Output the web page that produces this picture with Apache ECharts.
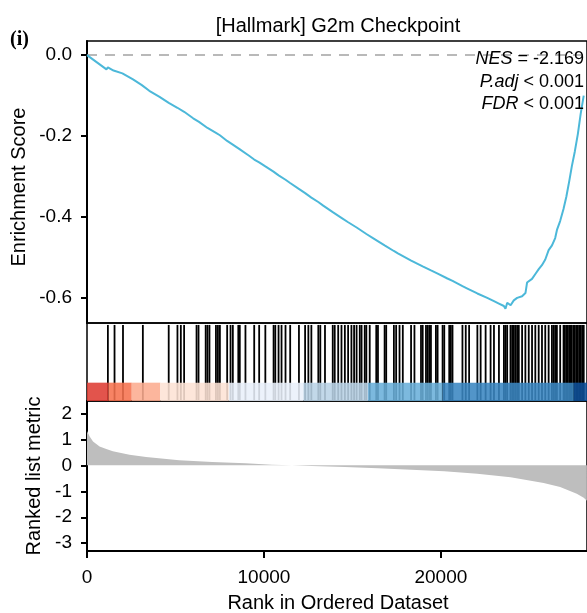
<!DOCTYPE html>
<html>
<head>
<meta charset="utf-8">
<script src="https://cdn.jsdelivr.net/npm/echarts@6/dist/echarts.min.js"></script>
<style>
html,body{margin:0;padding:0;background:#fff}
#main{width:587px;height:613px}
</style>
</head>
<body>
<div id="main"></div>
<script>
// running enrichment score (rank, score)
var esRank = [0,600,1100,1180,1500,1560,2000,2060,2600,3100,3160,3520,4100,4620,4650,5110,5490,6000,6330,6810,7290,7510,7920,8240,8640,9140,9450,9730,10080,10540,10830,11220,11480,11950,12330,12680,13070,13350,13890,14380,14760,15240,15790,16160,16820,17340,17570,18320,18970,19440,19820,20370,20660,21220,21500,22060,22620,23000,23280,23560,23650,23750,23940,24120,24310,24590,24780,24870,25150,25340,25530,25710,25900,26090,26280,26460,26560,26740,26930,27090,27260,27400,27570,27740,27900,28073];
var esValue = [0,-0.019,-0.035,-0.030,-0.038,-0.034,-0.045,-0.042,-0.060,-0.074,-0.070,-0.088,-0.103,-0.118,-0.115,-0.130,-0.140,-0.156,-0.165,-0.180,-0.192,-0.198,-0.212,-0.221,-0.233,-0.248,-0.258,-0.265,-0.275,-0.288,-0.297,-0.308,-0.316,-0.330,-0.341,-0.352,-0.363,-0.372,-0.388,-0.402,-0.413,-0.426,-0.442,-0.452,-0.470,-0.484,-0.490,-0.508,-0.522,-0.532,-0.540,-0.552,-0.558,-0.571,-0.577,-0.589,-0.600,-0.608,-0.614,-0.620,-0.627,-0.612,-0.618,-0.606,-0.600,-0.596,-0.588,-0.562,-0.553,-0.541,-0.529,-0.519,-0.505,-0.482,-0.470,-0.452,-0.432,-0.410,-0.380,-0.350,-0.310,-0.275,-0.238,-0.195,-0.145,-0.100];

// ranks of gene set members
var hitRank = [1180,1556,2034,3157,4618,5112,5303,5489,6191,6303,6708,6809,6921,7287,7399,7511,7921,8112,8242,8551,8635,8955,9450,9730,10079,10545,10641,10826,10994,11219,11483,11978,12326,12511,12680,13073,13186,13450,13888,14000,
  14197,14382,14573,14758,14944,15095,15236,15416,15517,15697,15787,15978,16348,16444,16820,16910,17343,17472,17663,17848,18315,18506,18876,18972,19157,19253,19348,19438,19719,19815,20096,20191,20472,20562,20657,
  21219,21405,21596,22062,22247,22528,22809,23000,23281,23562,23652,23747,23933,24028,24124,24213,24309,24404,24590,24775,24966,25152,25337,25528,25714,25899,26090,26275,26371,26461,26556,26742,26933,27006,27090,27175,27259,27343,27399,27495,27567,27652,27736,27820,27904,27989,28073];

// ranked list metric (rank, value)
var metricRank = [0,60,150,340,710,1090,1460,2400,3340,5210,7080,8960,10450,11580,12700,14570,16440,18320,20190,22060,23940,25810,26740,27680,28073,28250];
var metricValue = [1.32,1.30,1.11,0.92,0.73,0.63,0.54,0.41,0.32,0.20,0.13,0.077,0.026,0,-0.026,-0.064,-0.115,-0.166,-0.23,-0.32,-0.46,-0.68,-0.83,-1.09,-1.25,-1.36];

// colour bar under the hits: break points and fills
var barBreaks = [0,1219,2528,4140,8017,12230,15882,20095,27511,28300];
var barColors = ['#de3c33','#f6724f','#fcac90','#fde2d5','#e9f0fb','#b9d3e6','#6aafd9','#3a86c2','#0e509a'];

var esTicks = [0,-0.2,-0.4,-0.6];
var metricTicks = [2,1,0,-1,-2,-3];
var rankTicks = [0,10000,20000];

var titleText = '[Hallmark] G2m Checkpoint';
var nesText = '-2.169', padjText = '< 0.001', fdrText = '< 0.001';

var FONT = '"Liberation Sans", Arial, sans-serif';
var xMax = 28258;

var myChart = echarts.init(document.getElementById('main'));

var barData = [];
for (var i = 0; i < barColors.length; i++) barData.push([barBreaks[i], barBreaks[i + 1], i]);

function zip(a, b) { return a.map(function (v, i) { return [v, b[i]]; }); }

var hiddenX = function (g) {
  return { gridIndex: g, type: 'value', min: 0, max: xMax, show: false };
};
var lblStyle = { fontSize: 19, color: '#000', fontFamily: FONT };
var axLine = { show: true, onZero: false, lineStyle: { color: '#000', width: 2 } };
var frame = { show: true, borderColor: '#000', borderWidth: 1.5, backgroundColor: 'transparent' };

myChart.setOption({
  animation: false,
  backgroundColor: '#fff',
  grid: [
    Object.assign({ left: 87, right: -3, top: 41, height: 282 }, frame),
    Object.assign({ left: 87, right: -3, top: 323, height: 78 }, frame),
    Object.assign({ left: 87, right: -3, top: 401, height: 150 }, frame)
  ],
  xAxis: [
    hiddenX(0),
    hiddenX(1),
    {
      gridIndex: 2, type: 'value', min: 0, max: xMax,
      axisLine: axLine,
      axisTick: { show: true, customValues: rankTicks, length: 7, lineStyle: { color: '#000', width: 2 } },
      axisLabel: Object.assign({ customValues: rankTicks, margin: 17, formatter: function (v) { return String(v); } }, lblStyle),
      splitLine: { show: false }
    }
  ],
  yAxis: [
    {
      gridIndex: 0, type: 'value', min: -0.662, max: 0.035,
      axisLine: axLine,
      axisTick: { show: true, customValues: esTicks, length: 6, lineStyle: { color: '#000', width: 2 } },
      axisLabel: Object.assign({ customValues: esTicks, margin: 15, formatter: function (v) { return v.toFixed(1); } }, lblStyle),
      splitLine: { show: false }
    },
    { gridIndex: 1, type: 'value', min: 0, max: 1, show: false },
    {
      gridIndex: 2, type: 'value', min: -3.3, max: 2.48,
      axisLine: axLine,
      axisTick: { show: true, customValues: metricTicks, length: 6, lineStyle: { color: '#000', width: 2 } },
      axisLabel: Object.assign({ customValues: metricTicks, margin: 15 }, lblStyle),
      splitLine: { show: false }
    }
  ],
  graphic: [
    { type: 'text', left: 10, top: 30, style: { text: '(i)', font: 'bold 20px "Liberation Serif", serif', fill: '#000' } },
    { type: 'text', x: 338, y: 26, style: { text: titleText, font: '20px ' + FONT, fill: '#000', align: 'center', verticalAlign: 'middle' } },
    { type: 'text', x: 19, y: 187, rotation: Math.PI / 2, style: { text: 'Enrichment Score', font: '20px ' + FONT, fill: '#000', align: 'center', verticalAlign: 'middle' } },
    { type: 'text', x: 34, y: 476, rotation: Math.PI / 2, style: { text: 'Ranked list metric', font: '20px ' + FONT, fill: '#000', align: 'center', verticalAlign: 'middle' } },
    { type: 'text', x: 338, y: 603, style: { text: 'Rank in Ordered Dataset', font: '20px ' + FONT, fill: '#000', align: 'center', verticalAlign: 'middle' } },
    { type: 'text', x: 584, y: 59, z: 100, style: { text: '{i|NES} = ' + nesText, rich: { i: { fontStyle: 'italic', fontSize: 18, fontFamily: FONT } }, fontSize: 18, fontFamily: FONT, fill: '#000', align: 'right', verticalAlign: 'middle' } },
    { type: 'text', x: 584, y: 82, z: 100, style: { text: '{i|P.adj} ' + padjText, rich: { i: { fontStyle: 'italic', fontSize: 18, fontFamily: FONT } }, fontSize: 18, fontFamily: FONT, fill: '#000', align: 'right', verticalAlign: 'middle' } },
    { type: 'text', x: 584, y: 104, z: 100, style: { text: '{i|FDR} ' + fdrText, rich: { i: { fontStyle: 'italic', fontSize: 18, fontFamily: FONT } }, fontSize: 18, fontFamily: FONT, fill: '#000', align: 'right', verticalAlign: 'middle' } }
  ],
  series: [
    {
      type: 'line', xAxisIndex: 0, yAxisIndex: 0,
      data: zip(esRank, esValue),
      showSymbol: false, z: 3,
      lineStyle: { color: '#4cb8d9', width: 2 },
      markLine: {
        silent: true, symbol: 'none', z: 2,
        label: { show: false },
        lineStyle: { color: '#a3a3a3', type: [10, 8], width: 1.6 },
        data: [{ yAxis: 0 }]
      }
    },
    {
      type: 'custom', xAxisIndex: 1, yAxisIndex: 1, clip: true,
      data: hitRank.map(function (r) { return [r]; }),
      renderItem: function (params, api) {
        var a = api.coord([api.value(0), 0]);
        var b = api.coord([api.value(0), 0.975]);
        return { type: 'line', shape: { x1: a[0], y1: a[1], x2: b[0], y2: b[1] }, style: { stroke: '#000', lineWidth: 1.8 } };
      }
    },
    {
      type: 'custom', xAxisIndex: 1, yAxisIndex: 1, clip: true, z: 4,
      data: barData,
      renderItem: function (params, api) {
        var p0 = api.coord([api.value(0), 0.235]);
        var p1 = api.coord([api.value(1), 0]);
        return { type: 'rect', shape: { x: p0[0], y: p0[1], width: p1[0] - p0[0], height: p1[1] - p0[1] }, style: { fill: barColors[api.value(2)], opacity: 0.88 } };
      }
    },
    {
      type: 'line', xAxisIndex: 2, yAxisIndex: 2,
      data: zip(metricRank, metricValue),
      showSymbol: false,
      lineStyle: { width: 0 },
      areaStyle: { color: '#bebebe', opacity: 1 }
    }
  ]
});
</script>
</body>
</html>
